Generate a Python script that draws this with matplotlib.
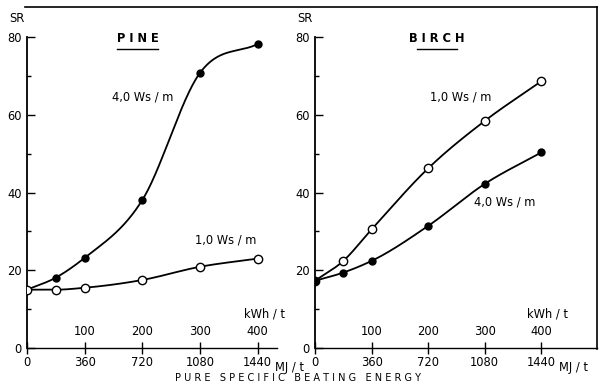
import numpy as np
import matplotlib
matplotlib.use('Agg')
import matplotlib.pyplot as plt
from matplotlib.lines import Line2D

# energy levels (MJ/t)
energy = [0, 180, 360, 720, 1080, 1440]

# PINE, SR values
pine_40 = [15.0, 18.1, 23.2, 38.1, 70.8, 78.2]
pine_10 = [15.0, 15.0, 15.5, 17.5, 20.9, 23.0]

# BIRCH, SR values
birch_10 = [17.3, 22.4, 30.5, 46.2, 58.4, 68.6]
birch_40 = [17.3, 19.4, 22.4, 31.4, 42.2, 50.3]

mj_ticks = [0, 360, 720, 1080, 1440]
kwh_ticks = [100, 200, 300, 400]
sr_ticks = [0, 20, 40, 60, 80]

FS = 8.3


def smooth(x, y, xs):
    # cubic hermite through the points (mean slopes, clipped so it does not overshoot)
    x = np.asarray(x, float)
    y = np.asarray(y, float)
    h = np.diff(x)
    d = np.diff(y) / h
    m = np.zeros_like(y)
    for k in range(1, len(x) - 1):
        if d[k - 1] * d[k] > 0:
            m[k] = (d[k - 1] * h[k] + d[k] * h[k - 1]) / (h[k] + h[k - 1])
            lim = 3 * min(abs(d[k - 1]), abs(d[k]))
            m[k] = np.sign(m[k]) * min(abs(m[k]), lim)
    m[0] = d[0]
    m[-1] = d[-1]
    out = np.empty_like(xs)
    for i, xv in enumerate(xs):
        k = min(np.searchsorted(x, xv, side='right') - 1, len(x) - 2)
        t = (xv - x[k]) / h[k]
        h00 = 2 * t**3 - 3 * t**2 + 1
        h10 = t**3 - 2 * t**2 + t
        h01 = -2 * t**3 + 3 * t**2
        h11 = t**3 - t**2
        out[i] = h00 * y[k] + h10 * h[k] * m[k] + h01 * y[k + 1] + h11 * h[k] * m[k + 1]
    return out


def draw_series(ax, y, filled):
    xs = np.linspace(energy[0], energy[-1], 300)
    ax.plot(xs, smooth(energy, y, xs), color='black', lw=1.3, zorder=2)
    if filled:
        ax.plot(energy, y, 'o', ms=5, color='black', zorder=3)
    else:
        ax.plot(energy, y, 'o', ms=6, mfc='white', mec='black', mew=1.0, zorder=3)


def setup_axes(ax, xmax):
    ax.set_xlim(0, xmax)
    ax.set_ylim(0, 80)
    for s in ['top', 'right']:
        ax.spines[s].set_visible(False)
    ax.spines['left'].set_linewidth(1.3)
    ax.spines['bottom'].set_linewidth(1.0)
    ax.set_yticks(sr_ticks)
    ax.set_yticks([10, 30, 50, 70], minor=True)
    ax.tick_params(axis='y', which='major', direction='in', length=6, width=1.0,
                   labelsize=FS, pad=4)
    ax.tick_params(axis='y', which='minor', direction='in', length=3, width=1.0)
    ax.set_xticks(mj_ticks)
    ax.set_xticklabels([str(v) for v in mj_ticks])
    ax.tick_params(axis='x', direction='inout', length=8, width=1.0, labelsize=FS, pad=2)
    ax.text(-0.01, 1.04, 'SR', transform=ax.transAxes, ha='right', va='bottom', fontsize=FS)
    # kWh/t scale written above the axis
    for k in kwh_ticks:
        ax.text(k * 3.6, 2.5, str(k), ha='center', va='bottom', fontsize=FS)
    ax.text(1440 + 40, 7.2, 'kWh / t', ha='center', va='bottom', fontsize=FS)
    ax.text(1440 + 110, -3.4, 'MJ / t', ha='left', va='top', fontsize=FS,
            clip_on=False)


def title(ax, name, xc):
    t = ax.text(xc, 79.5, name, ha='center', va='center', fontsize=FS,
                fontweight='bold')
    ax.plot([xc - 130, xc + 130], [76.8, 76.8], color='black', lw=1.0)
    return t


fig = plt.figure(figsize=(6.01, 3.86), dpi=100)

ax1 = fig.add_axes([27 / 601, 1 - 348 / 386, 250 / 601, 311 / 386])
setup_axes(ax1, 1560)
draw_series(ax1, pine_40, True)
draw_series(ax1, pine_10, False)
title(ax1, 'P I N E', 690)
ax1.text(530, 64.5, '4,0 Ws / m', ha='left', va='center', fontsize=FS)
ax1.text(1050, 27.8, '1,0 Ws / m', ha='left', va='center', fontsize=FS)

ax2 = fig.add_axes([315 / 601, 1 - 348 / 386, 282 / 601, 311 / 386])
setup_axes(ax2, 1795)
draw_series(ax2, birch_10, False)
draw_series(ax2, birch_40, True)
title(ax2, 'B I R C H', 777)
ax2.text(735, 64.5, '1,0 Ws / m', ha='left', va='center', fontsize=FS)
ax2.text(1010, 37.5, '4,0 Ws / m', ha='left', va='center', fontsize=FS)

fig.text(298 / 601, 1 - 378 / 386, 'P U R E   S P E C I F I C   B E A T I N G   E N E R G Y',
         ha='center', va='center', fontsize=7.0)

# frame lines of the original figure
fig.add_artist(Line2D([25 / 601, 597 / 601], [1 - 7 / 386, 1 - 7 / 386],
                      color='black', lw=1.2))
fig.add_artist(Line2D([597 / 601, 597 / 601], [1 - 7 / 386, 1 - 349 / 386],
                      color='black', lw=1.2))

fig.savefig('out.png', dpi=100)
